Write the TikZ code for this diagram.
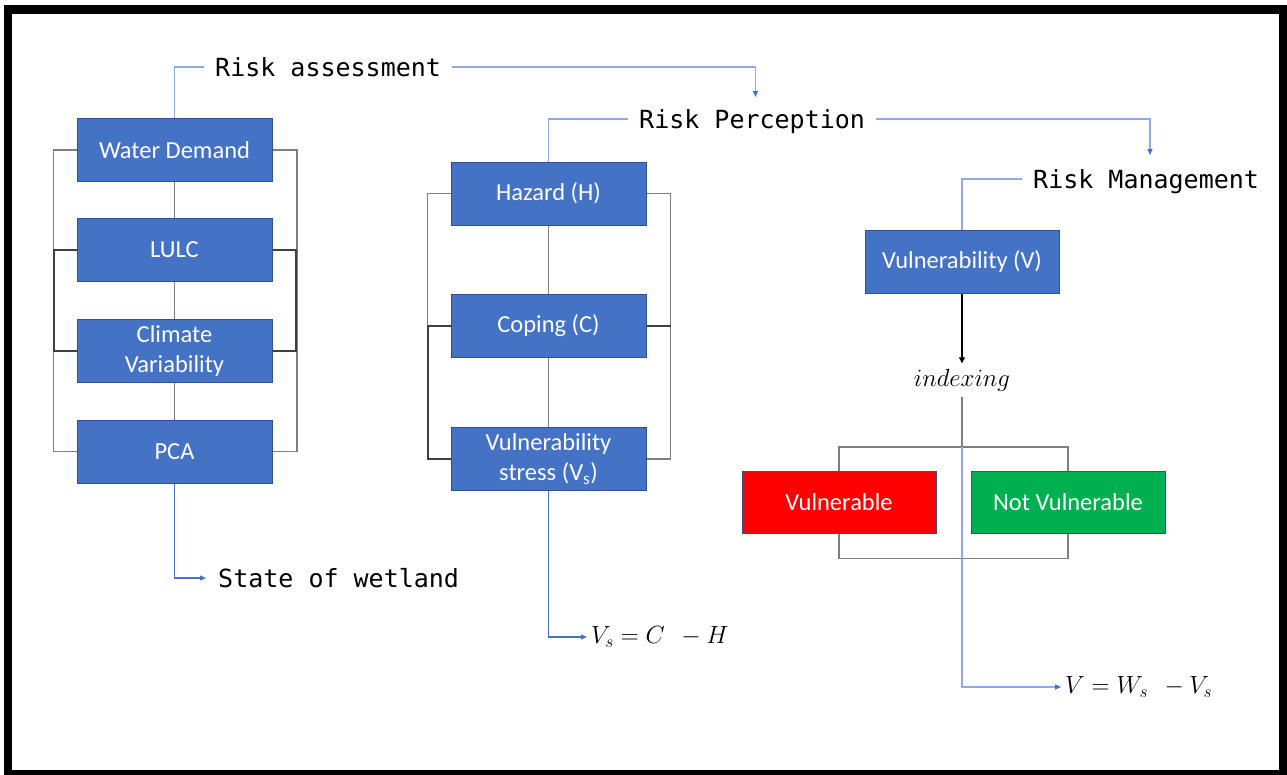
\documentclass[tikz,border=0pt]{standalone}
\usepackage{fontspec}
\setmainfont{Carlito}
\newfontfamily\monof{DejaVu Sans Mono}
\usetikzlibrary{arrows.meta}
\definecolor{boxblue}{HTML}{4472C4}
\definecolor{boxedge}{HTML}{2F528F}
\definecolor{lblue}{HTML}{8FAADC}
\definecolor{ablue}{HTML}{4472C4}
\definecolor{vred}{HTML}{FF0000}
\definecolor{vgreen}{HTML}{00B050}
\definecolor{gline}{HTML}{7F7F7F}
\definecolor{dline}{HTML}{3F3F3F}
\tikzset{
  bluebox/.style={draw=boxedge, line width=1pt, fill=boxblue, text=white,
    minimum width=195pt, minimum height=63pt, inner sep=0pt, align=center,
    font=\fontsize{24.5}{30}\selectfont},
  redbox/.style={bluebox, fill=vred},
  greenbox/.style={bluebox, fill=vgreen},
  monolabel/.style={inner xsep=11pt, inner ysep=0pt, text height=18pt, text depth=0pt, font=\monof\fontsize{25}{30}\selectfont},
  mathlabel/.style={inner xsep=4pt, inner ysep=0pt, font=\fontsize{26}{30}\selectfont},
  thinline/.style={draw=gline, line width=1.3pt},
  darkline/.style={draw=dline, line width=2pt},
  lbline/.style={draw=lblue, line width=1.3pt},
  abline/.style={draw=ablue, line width=1.3pt, -{Triangle[length=6pt,width=5pt]}},
  lbarrow/.style={draw=lblue, line width=1.3pt, -{Triangle[length=6pt,width=5pt,color=ablue]}},
}
\begin{document}
\begin{tikzpicture}[x=1pt, y=-1pt]
\clip (0,0) rectangle (1287,774);
\fill[white] (0,0) rectangle (1287,774);
\draw[line width=8.5pt, black] (8,9.5) rectangle (1283,774);

% left column
\node[bluebox] (wd) at (174.5,150) {Water Demand};
\node[bluebox] (lulc) at (174.5,250) {LULC};
\node[bluebox] (clim) at (174.5,351) {Climate\\Variability};
\node[bluebox] (pca) at (174.5,451.5) {PCA};

% middle column
\node[bluebox] (haz) at (548.5,193.5) {Hazard (H)};
\node[bluebox] (cop) at (548.5,326) {Coping (C)};
\node[bluebox] (vs) at (548.5,459) {Vulnerability\\stress (V\textsubscript{s})};

% right column
\node[bluebox, minimum width=194pt] (vv) at (962,262) {Vulnerability (V)};
\node[redbox, minimum width=194pt, minimum height=62pt] (vul) at (839,502) {Vulnerable};
\node[greenbox, minimum width=194pt, minimum height=62pt] (nvul) at (1068,502) {Not Vulnerable};
\node[inner sep=0pt, minimum height=33pt, font=\fontsize{24}{28}\selectfont] (idx) at (962,380) {$indexing$};

% labels
\node[monolabel, anchor=west] (ra) at (204,67) {Risk assessment};
\node[monolabel, anchor=west] (rp) at (628,119) {Risk Perception};
\node[monolabel, anchor=west] (rm) at (1022,179) {Risk Management};
\node[monolabel, anchor=west, inner xsep=12pt] (sw) at (206,578) {State of wetland};
\node[mathlabel, anchor=west] (eq1) at (587,637) {$V_s = C\;\, - H$};
\node[mathlabel, anchor=west] (eq2) at (1061,687) {$V = W_s\;\, - V_s$};

\coordinate (a1) at (755.5,97);
\coordinate (a2) at (1150,155);
\coordinate (bt) at (962,447);

% left brackets
\draw[thinline] (wd.west) -- ++(-23,0) |- (pca.west);
\draw[thinline] (wd.east) -- ++(24.5,0) |- (pca.east);
\draw[darkline] (lulc.west) -- ++(-23,0) |- (clim.west);
\draw[darkline] (lulc.east) -- ++(23.5,0) |- (clim.east);
\draw[thinline] (wd.south) -- (lulc.north);
\draw[thinline] (lulc.south) -- (clim.north);
\draw[thinline] (clim.south) -- (pca.north);

% middle brackets
\draw[thinline] (haz.west) -- ++(-23,0) |- (vs.west);
\draw[thinline] (haz.east) -- ++(24,0) |- (vs.east);
\draw[darkline] (cop.west) -- ++(-23,0) |- (vs.west);
\draw[darkline] (cop.east) -- ++(24,0);
\draw[thinline] (haz.south) -- (cop.north);
\draw[thinline] (cop.south) -- (vs.north);

% right column connectors
\draw[line width=1.1pt, draw=black, -{Triangle[length=6pt,width=6pt]}] (vv.south) -- (idx.north);
\draw[thinline] (idx.south) -- (bt);
\draw[thinline] (vul.north) |- (bt) -| (nvul.north);
\draw[thinline] (vul.south) -- ++(0,25) -| (nvul.south);

% flow lines
\draw[lbline] (wd.north) |- (ra.west);
\draw[lbarrow] (ra.east) -| (a1);
\draw[lbline] (haz.north) |- (rp.west);
\draw[lbarrow] (rp.east) -| (a2);
\draw[lbline] (vv.north) |- (rm.west);
\draw[abline] (pca.south) |- (sw.west);
\draw[abline] (vs.south) |- (eq1.west);
\draw[lbarrow] (bt) |- (eq2.west);
\end{tikzpicture}
\end{document}
